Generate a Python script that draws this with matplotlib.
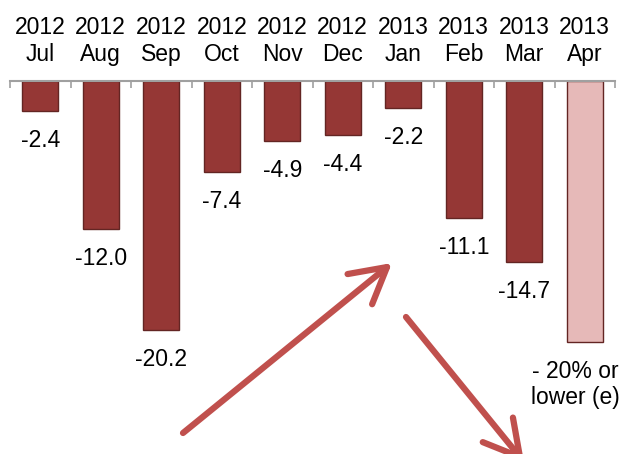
import matplotlib
matplotlib.use("Agg")
import matplotlib.pyplot as plt
import numpy as np

years = ["2012", "2012", "2012", "2012", "2012", "2012", "2013", "2013", "2013", "2013"]
months = ["Jul", "Aug", "Sep", "Oct", "Nov", "Dec", "Jan", "Feb", "Mar", "Apr"]
values = [-2.4, -12.0, -20.2, -7.4, -4.9, -4.4, -2.2, -11.1, -14.7, -21.2]
value_labels = ["-2.4", "-12.0", "-20.2", "-7.4", "-4.9", "-4.4", "-2.2", "-11.1", "-14.7",
                "- 20% or\nlower (e)"]
estimated = [False] * 9 + [True]

plt.rcParams["font.family"] = ["Liberation Sans", "DejaVu Sans"]

W, H = 624, 454
fig = plt.figure(figsize=(W / 100, H / 100), dpi=100)
ax = fig.add_axes([10 / W, 0, 605 / W, (H - 81) / H])

x = np.arange(len(values))
colors = ["#E6B9B8" if e else "#953735" for e in estimated]
ax.bar(x, values, width=0.6, color=colors, edgecolor="#632523", linewidth=1)

for xi, v, lab, e in zip(x, values, value_labels, estimated):
    # the last label sits a bit left so it fits inside the picture
    dx = -7 if e else 0
    ax.annotate(lab, (xi, v), xytext=(dx, -13), textcoords="offset points",
                ha="center", va="top", fontsize=16.5, linespacing=1.15)

ax.set_xlim(-0.5, len(values) - 0.5)
ax.set_ylim(-30.25, 0)
ax.xaxis.tick_top()
ax.set_xticks(x)
ax.set_xticklabels([f"{y}\n{m}" for y, m in zip(years, months)], fontsize=16.5,
                   linespacing=1.2)
ax.tick_params(axis="x", which="major", length=0, pad=11)
ax.set_xticks(np.arange(-0.5, len(values), 1), minor=True)
ax.tick_params(axis="x", which="minor", direction="in", length=5, color="#A0A0A0",
               width=1.2)
ax.set_yticks([])
for s in ["left", "right", "bottom"]:
    ax.spines[s].set_visible(False)
ax.spines["top"].set_color("#A0A0A0")
ax.spines["top"].set_linewidth(1.5)

arrow_kw = dict(arrowstyle="->,head_length=0.9,head_width=0.5", color="#C0504D", lw=4.5,
                shrinkA=0, shrinkB=0)
fig.add_artist(matplotlib.patches.FancyArrowPatch(
    (183 / W, 1 - 433 / H), (392 / W, 1 - 263 / H), transform=fig.transFigure,
    mutation_scale=28, **arrow_kw))
fig.add_artist(matplotlib.patches.FancyArrowPatch(
    (406 / W, 1 - 317 / H), (524 / W, 1 - 462 / H), transform=fig.transFigure,
    mutation_scale=28, **arrow_kw))

fig.savefig("out.png", dpi=100, facecolor="white")
